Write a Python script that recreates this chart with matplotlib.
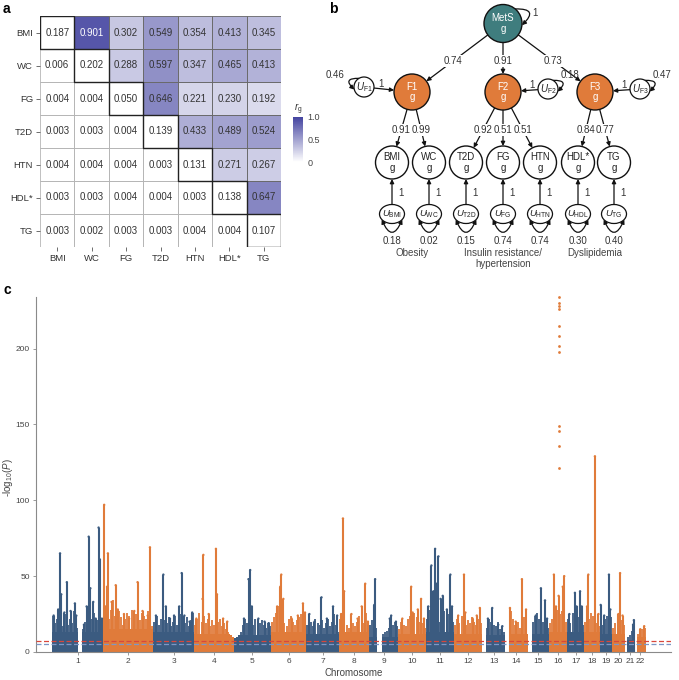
import numpy as np
import matplotlib
matplotlib.use('Agg')
import matplotlib.pyplot as plt
import matplotlib.cm as cm
from matplotlib.colors import LinearSegmentedColormap, Normalize
from matplotlib.patches import Rectangle, Circle, Ellipse, FancyArrowPatch

plt.rcParams['font.family'] = ['Liberation Sans', 'DejaVu Sans']
plt.rcParams['mathtext.fontset'] = 'custom'
plt.rcParams['mathtext.rm'] = 'Liberation Sans'
plt.rcParams['mathtext.it'] = 'Liberation Sans:italic'

# ---------------- a: genetic correlation matrix ----------------
traits = ['BMI', 'WC', 'FG', 'T2D', 'HTN', 'HDL*', 'TG']
rg = [
    [0.187, 0.901, 0.302, 0.549, 0.354, 0.413, 0.345],
    [0.006, 0.202, 0.288, 0.597, 0.347, 0.465, 0.413],
    [0.004, 0.004, 0.050, 0.646, 0.221, 0.230, 0.192],
    [0.003, 0.003, 0.004, 0.139, 0.433, 0.489, 0.524],
    [0.004, 0.004, 0.004, 0.003, 0.131, 0.271, 0.267],
    [0.003, 0.003, 0.004, 0.004, 0.003, 0.138, 0.647],
    [0.003, 0.002, 0.003, 0.003, 0.004, 0.004, 0.107],
]

# ---------------- b: factor model ----------------
factor_names = ['F1', 'F2', 'F3']
mets_loadings = [0.74, 0.91, 0.73]
factor_resid = [0.46, 0.18, 0.47]
obs_names = ['BMI', 'WC', 'T2D', 'FG', 'HTN', 'HDL*', 'TG']
obs_sub = ['BMI', 'WC', 'T2D', 'FG', 'HTN', 'HDL', 'TG']
obs_factor = [0, 0, 1, 1, 1, 2, 2]
obs_loadings = [0.91, 0.99, 0.92, 0.51, 0.51, 0.84, 0.77]
obs_resid = [0.18, 0.02, 0.15, 0.74, 0.74, 0.30, 0.40]
group_labels = ['Obesity', 'Insulin resistance/\nhypertension', 'Dyslipidemia']

# ---------------- c: Manhattan plot ----------------
chrom_len = [249, 243, 198, 191, 181, 171, 159, 146, 141, 136, 135,
             134, 115, 107, 103, 90, 81, 78, 59, 63, 48, 51]
# solid lower part of the point cloud per chromosome
base_level = [13, 15, 13, 12, 11, 13, 12, 13, 10, 12, 13, 12,
              11, 12, 12, 13, 13, 13, 12, 12, 8, 10]
# ragged top of the point cloud, evenly spaced along each chromosome (0 = no SNPs)
columns = [
    [24, 19, 22, 28, 17, 20, 25, 18, 22, 19, 27, 16, 0, 0, 15, 20, 24, 18, 22, 26, 19, 21, 25, 18],
    [30, 26, 22, 28, 34, 24, 20, 27, 23, 18, 22, 26, 24, 28, 22, 25, 30, 21, 26, 24, 22, 27, 20, 17],
    [20, 24, 18, 22, 26, 21, 19, 23, 17, 20, 24, 18, 22, 25, 21, 19, 23, 17, 21, 26],
    [18, 22, 26, 20, 24, 19, 22, 17, 21, 18, 23, 20, 22, 17, 19, 15, 13, 11, 10],
    [9, 10, 11, 13, 18, 22, 19, 24, 20, 18, 22, 17, 19, 21, 18, 16, 19, 17],
    [20, 23, 26, 30, 24, 21, 19, 17, 22, 24, 20, 18, 21, 23, 25, 22, 19],
    [18, 25, 20, 17, 22, 19, 18, 21, 16, 19, 22, 17, 20, 25, 18, 13],
    [22, 26, 20, 18, 16, 22, 19, 17, 20, 24, 22, 19, 26, 17],
    [18, 21, 20, 16, 0, 0, 12, 13, 14, 16, 15, 18, 20, 17],
    [15, 20, 18, 17, 22, 24, 20, 26, 23, 20, 25, 19, 16],
    [22, 28, 25, 30, 26, 22, 20, 24, 27, 23, 25, 28, 20],
    [18, 22, 19, 24, 20, 18, 21, 19, 23, 20, 18, 22, 19],
    [0, 0, 16, 22, 20, 18, 17, 20, 15, 14, 13],
    [0, 0, 27, 22, 18, 20, 16, 19, 23, 25],
    [0, 0, 20, 24, 26, 22, 25, 20, 18, 16],
    [19, 22, 26, 24, 28, 25, 27, 22, 20],
    [22, 19, 26, 24, 28, 23, 26, 18],
    [20, 24, 22, 26, 24, 21, 19, 17],
    [20, 18, 22, 24, 20, 23],
    [16, 19, 22, 26, 21, 18],
    [0, 10, 11, 14, 18],
    [0, 12, 14, 15, 16],
]
# (chromosome, position in Mb, peak -log10 P)
peaks = [
    (1, 8, 24), (1, 30, 28), (1, 39, 65), (1, 45, 38), (1, 60, 26), (1, 72, 46),
    (1, 90, 27), (1, 111, 32), (1, 118, 24), (1, 155, 18), (1, 168, 30), (1, 178, 76),
    (1, 186, 42), (1, 200, 33), (1, 212, 22), (1, 226, 82), (1, 232, 61), (1, 242, 22),
    (2, 4, 97), (2, 10, 30), (2, 22, 65), (2, 18, 43), (2, 40, 33), (2, 60, 44),
    (2, 70, 28), (2, 100, 25), (2, 125, 22), (2, 150, 27), (2, 166, 46), (2, 190, 27),
    (2, 215, 24), (2, 226, 69),
    (3, 12, 24), (3, 48, 51), (3, 60, 30), (3, 80, 22), (3, 100, 24), (3, 125, 30),
    (3, 137, 52), (3, 150, 24), (3, 175, 20), (3, 188, 26),
    (4, 10, 22), (4, 44, 64), (4, 40, 35), (4, 70, 25), (4, 105, 68), (4, 110, 38),
    (4, 140, 22), (4, 160, 20),
    (5, 50, 22), (5, 72, 48), (5, 80, 54), (5, 88, 30), (5, 120, 22), (5, 150, 20),
    (5, 170, 19),
    (6, 30, 30), (6, 45, 43), (6, 50, 51), (6, 60, 35), (6, 100, 22), (6, 130, 24),
    (6, 155, 32), (6, 165, 26),
    (7, 15, 25), (7, 40, 20), (7, 74, 36), (7, 100, 22), (7, 130, 30), (7, 150, 24),
    (8, 10, 25), (8, 19, 88), (8, 25, 40), (8, 60, 25), (8, 90, 22), (8, 110, 30),
    (8, 127, 45), (8, 140, 20),
    (9, 29, 48), (9, 25, 31), (9, 100, 22), (9, 107, 24), (9, 130, 20),
    (10, 20, 22), (10, 63, 43), (10, 70, 26), (10, 95, 28), (10, 111, 35), (10, 125, 22),
    (11, 10, 30), (11, 25, 57), (11, 35, 40), (11, 43, 68), (11, 50, 45), (11, 59, 63),
    (11, 70, 35), (11, 80, 37), (11, 100, 28), (11, 117, 51), (11, 125, 30),
    (12, 20, 24), (12, 48, 51), (12, 55, 26), (12, 90, 22), (12, 110, 24), (12, 125, 29),
    (13, 30, 22), (13, 51, 29), (13, 80, 18), (13, 100, 17),
    (14, 22, 29), (14, 50, 20), (14, 80, 48), (14, 100, 28),
    (15, 40, 24), (15, 65, 42), (15, 85, 34), (15, 95, 22),
    (16, 25, 51), (16, 35, 30), (16, 48, 37), (16, 68, 43), (16, 75, 50),
    (17, 10, 25), (17, 37, 39), (17, 45, 30), (17, 62, 40), (17, 70, 30),
    (18, 15, 30), (18, 21, 51), (18, 53, 129), (18, 70, 25),
    (19, 3, 31), (19, 20, 24), (19, 43, 51), (19, 50, 28),
    (20, 30, 25), (20, 38, 52), (20, 50, 24),
    (21, 38, 18), (21, 42, 21),
    (22, 25, 15), (22, 44, 17),
]
# isolated very strong hits on chromosome 16
chr16_pos = 48
chr16_top = [121, 136, 146, 149, 198, 202, 208, 215, 226, 228, 230, 234]
gw_line = 7.3
sugg_line = 5.0

BLUE = '#3b5b80'
ORANGE = '#e07b3a'
TEAL = '#3f7d7e'
GREY = '#444444'

fig = plt.figure(figsize=(6.79, 6.80), dpi=100)
W, H = 679, 680

# ======================= panel a =======================
cmap = LinearSegmentedColormap.from_list('rg', ['#ffffff', '#4444a0'])
norm = Normalize(0, 1)
vals = np.array(rg)
n = len(traits)
axa = fig.add_axes([40 / W, 1 - 247 / H, 241 / W, 231 / H])
upper = np.triu(np.ones((n, n), dtype=bool), 1)
axa.pcolormesh(np.arange(n + 1), np.arange(n + 1),
               np.ma.masked_where(~upper, vals), cmap=cmap, norm=norm)
for i in range(n):
    for j in range(n):
        if j > i:
            ec, lw, z = '#6a6a6a', 0.6, 2
        elif j == i:
            ec, lw, z = '#222222', 1.0, 3
        else:
            ec, lw, z = '#b5b5b5', 0.6, 1
        axa.add_patch(Rectangle((j, i), 1, 1, fill=False, ec=ec, lw=lw, zorder=z))
        tc = 'white' if (j > i and vals[i, j] > 0.8) else '#333333'
        axa.text(j + 0.5, i + 0.5, f'{vals[i, j]:.3f}', ha='center', va='center',
                 fontsize=7, color=tc, zorder=4)
axa.set_xlim(0, n)
axa.set_ylim(n, 0)
axa.set_xticks(np.arange(n) + 0.5, traits)
axa.set_yticks(np.arange(n) + 0.5, traits)
for s in axa.spines.values():
    s.set_visible(False)
axa.tick_params(length=3, width=0.6, color='#555555', labelsize=6.8,
                labelcolor='#333333', pad=2)

cax = fig.add_axes([293 / W, 1 - 162 / H, 10 / W, 45 / H])
cb = fig.colorbar(cm.ScalarMappable(norm=norm, cmap=cmap), cax=cax, ticks=[0, 0.5, 1.0])
cb.ax.set_yticklabels(['0', '0.5', '1.0'])
cb.outline.set_visible(False)
cb.ax.tick_params(length=0, labelsize=6.5, labelcolor=GREY, pad=3)
cax.set_title(r'$r_{\rm g}$', fontsize=7, pad=3, color='#333333')

# ======================= panel b =======================
axb = fig.add_axes([320 / W, 1 - 275 / H, 359 / W, 275 / H])
axb.set_xlim(320, 679)
axb.set_ylim(275, 0)
axb.axis('off')

mets_xy = (503, 23.5)
R_MET, R_F, R_UF, R_OBS = 19, 18, 10, 16.5
fac_xy = [(412, 92), (503, 92), (595, 92)]
uf_xy = [(364, 87), (548, 89), (640, 89)]
obs_x = [392, 429, 466, 503, 540, 578, 614]
OBS_Y, U_Y = 162.5, 214
U_W, U_H = 25, 19


def edge_pt(c, r, toward):
    d = np.subtract(toward, c).astype(float)
    d /= np.hypot(*d)
    return (c[0] + d[0] * r, c[1] + d[1] * r)


def arrow(p, q, style='-|>', conn='arc3'):
    axb.add_patch(FancyArrowPatch(p, q, arrowstyle=style, mutation_scale=6, lw=0.9,
                                  color='#111111', shrinkA=0, shrinkB=0,
                                  connectionstyle=conn, zorder=2))


def loop(c, rx, ry, a1, a2, rad, style='-|>'):
    a1, a2 = np.radians(a1), np.radians(a2)
    p = (c[0] + rx * np.cos(a1), c[1] + ry * np.sin(a1))
    q = (c[0] + rx * np.cos(a2), c[1] + ry * np.sin(a2))
    arrow(p, q, style=style, conn=f'arc3,rad={rad}')


def on_line(p, q, y):
    t = (y - p[1]) / (q[1] - p[1])
    return p[0] + t * (q[0] - p[0])


lab = dict(fontsize=7, color='#333333', ha='center', va='center')
box = dict(facecolor='white', edgecolor='none', pad=0.6)

# MetS
axb.add_patch(Circle(mets_xy, R_MET, fc=TEAL, ec='#111111', lw=1.0, zorder=3))
axb.text(*mets_xy, 'MetS\ng', fontsize=7, color='white', ha='center', va='center',
         linespacing=1.1, zorder=4)
loop(mets_xy, R_MET, R_MET, -50, 5, -1.3)
axb.text(535, 13, '1', **lab)

for k, (fx, fy) in enumerate(fac_xy):
    axb.add_patch(Circle((fx, fy), R_F, fc=ORANGE, ec='#111111', lw=1.0, zorder=3))
    axb.text(fx, fy, f'{factor_names[k]}\ng', fontsize=7, color='white', ha='center',
             va='center', linespacing=1.1, zorder=4)
    p = edge_pt(mets_xy, R_MET, (fx, fy))
    q = edge_pt((fx, fy), R_F, mets_xy)
    arrow(p, q)
    axb.text(on_line(mets_xy, (fx, fy), 61), 61, f'{mets_loadings[k]:.2f}', bbox=box,
             zorder=5, **lab)
    # factor residual
    ux, uy = uf_xy[k]
    axb.add_patch(Circle((ux, uy), R_UF, fc='white', ec='#111111', lw=0.9, zorder=3))
    axb.text(ux, uy, r'$U_{\rm ' + factor_names[k] + '}$', fontsize=7, ha='center',
             va='center', color='#222222', zorder=4)
    arrow(edge_pt((ux, uy), R_UF, (fx, fy)), edge_pt((fx, fy), R_F, (ux, uy)))
    axb.text(ux + 0.36 * (fx - ux), uy + 0.36 * (fy - uy) - 5, '1', **lab)
    if ux < fx:
        loop((ux, uy), R_UF, R_UF, -120, 165, 1.3)
        axb.text(ux - 29, 75, f'{factor_resid[k]:.2f}', **lab)
    else:
        loop((ux, uy), R_UF, R_UF, -60, 15, -1.3)
        axb.text(ux + 22, 75, f'{factor_resid[k]:.2f}', **lab)

for i, ox in enumerate(obs_x):
    f = fac_xy[obs_factor[i]]
    axb.add_patch(Circle((ox, OBS_Y), R_OBS, fc='white', ec='#111111', lw=1.0, zorder=3))
    axb.text(ox, OBS_Y, f'{obs_names[i]}\ng', fontsize=7, ha='center', va='center',
             linespacing=1.1, color='#222222', zorder=4)
    arrow(edge_pt(f, R_F, (ox, OBS_Y)), edge_pt((ox, OBS_Y), R_OBS, f))
    axb.text(on_line(f, (ox, OBS_Y), 130), 130, f'{obs_loadings[i]:.2f}', bbox=box,
             zorder=5, **lab)
    axb.add_patch(Ellipse((ox, U_Y), U_W, U_H, fc='white', ec='#111111', lw=0.9, zorder=3))
    axb.text(ox, U_Y, r'$U_{\rm ' + obs_sub[i] + '}$', fontsize=6.8, ha='center',
             va='center', color='#222222', zorder=4)
    arrow((ox, U_Y - U_H / 2), (ox, OBS_Y + R_OBS))
    axb.text(ox + 9, 193, '1', **lab)
    loop((ox, U_Y), U_W / 2, U_H / 2, 145, 35, 1.2, style='<|-|>')
    axb.text(ox, 241, f'{obs_resid[i]:.2f}', **lab)

for k, (fx, fy) in enumerate(fac_xy):
    axb.text(fx, 248, group_labels[k], fontsize=7, color=GREY, ha='center', va='top',
             linespacing=1.15)

# ======================= panel c =======================
axc = fig.add_axes([36 / W, 28 / H, 635 / W, 355 / H])
starts = np.concatenate([[0], np.cumsum(chrom_len)[:-1]])
cols = [BLUE if k % 2 == 0 else ORANGE for k in range(len(chrom_len))]
for k, L in enumerate(chrom_len):
    h = np.array(columns[k], dtype=float)
    w = L / len(h)
    xs = starts[k] + (np.arange(len(h)) + 0.5) * w
    solid = np.where(h > 0, np.minimum(h, base_level[k]), 0)
    axc.bar(xs, solid, width=w * 1.02, color=cols[k], linewidth=0, zorder=1)
    axc.vlines(xs[h > 0], 0, h[h > 0], colors=cols[k], lw=1.3, zorder=1)

pk_c = np.array([p[0] for p in peaks]) - 1
pk_x = starts[pk_c] + np.array([p[1] for p in peaks])
pk_h = np.array([p[2] for p in peaks], dtype=float)
pk_col = [cols[c] for c in pk_c]
axc.vlines(pk_x, 0, pk_h, colors=pk_col, lw=1.5, zorder=2)
axc.scatter(pk_x, pk_h, s=3, c=pk_col, lw=0, zorder=2)
axc.scatter(np.full(len(chr16_top), starts[15] + chr16_pos), chr16_top, s=4,
            color=ORANGE, lw=0, zorder=2, clip_on=False)

axc.axhline(gw_line, color='#d9473b', ls=(0, (4, 2)), lw=0.9, zorder=4)
axc.axhline(sugg_line, color='#7d97c6', ls=(0, (4, 2)), lw=0.9, zorder=4)

axc.set_xlim(-77.6, 3002)
axc.set_ylim(0, 234)
axc.set_xticks(starts + np.array(chrom_len) / 2, [str(i + 1) for i in range(22)])
axc.set_yticks([0, 50, 100, 150, 200])
for s in ['top', 'right']:
    axc.spines[s].set_visible(False)
for s in ['left', 'bottom']:
    axc.spines[s].set_color('#8a8a8a')
    axc.spines[s].set_linewidth(0.8)
axc.tick_params(length=2.5, width=0.6, color='#8a8a8a', labelsize=6,
                labelcolor=GREY, pad=2)
axc.set_xlabel('Chromosome', fontsize=7, color=GREY, labelpad=2)
axc.set_ylabel(r'-log$_{10}$($P$)', fontsize=7, color=GREY)
axc.yaxis.set_label_coords(-21 / 635, 0.49)

fig.text(3 / W, 1 - 9 / H, 'a', fontsize=10, fontweight='bold', va='center')
fig.text(329 / W, 1 - 9 / H, 'b', fontsize=10, fontweight='bold', va='center')
fig.text(3 / W, 1 - 290 / H, 'c', fontsize=10, fontweight='bold', va='center')

fig.savefig('out.png', dpi=100)
